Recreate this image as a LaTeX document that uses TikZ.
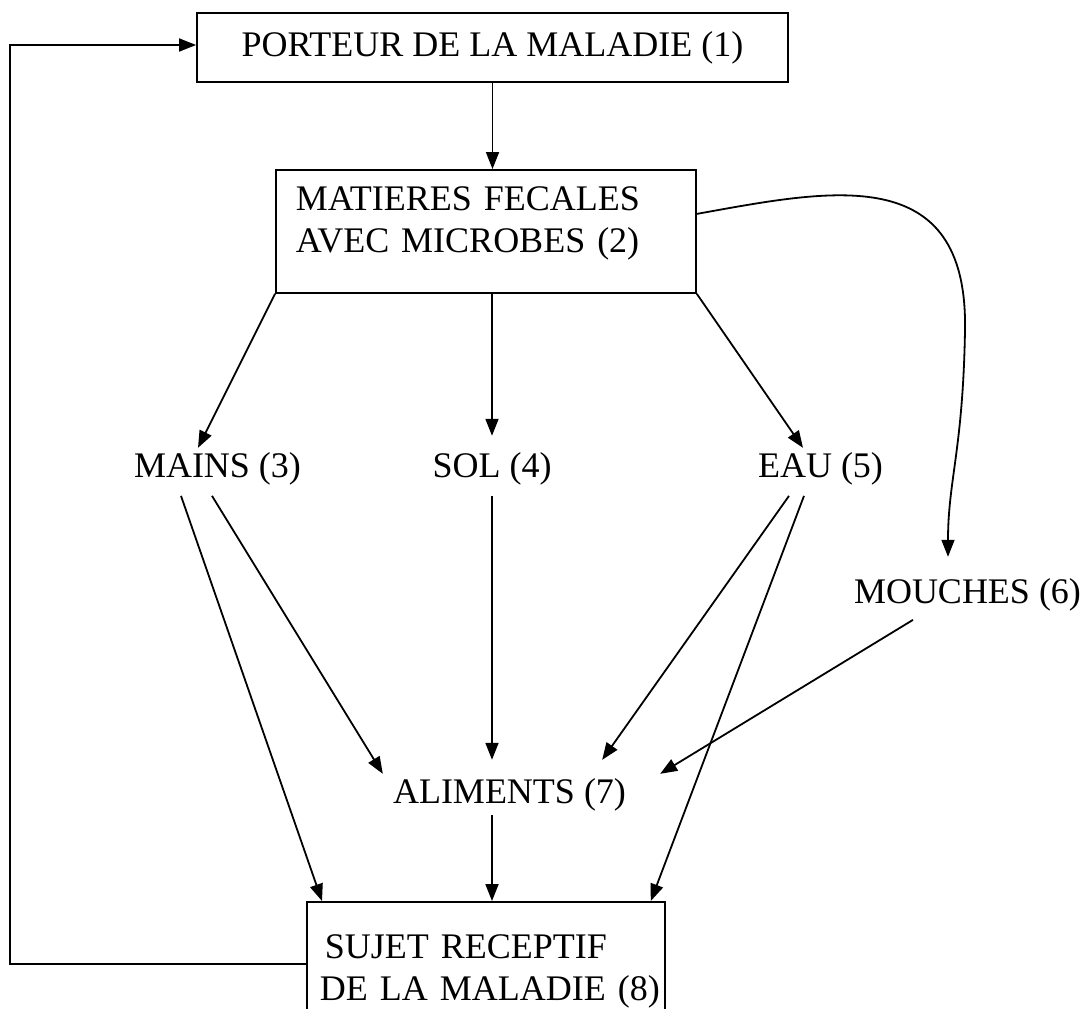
\documentclass[tikz,border=0pt]{standalone}
\usepackage{fontspec}
\setmainfont{Liberation Serif}
\usetikzlibrary{
    arrows.meta,
    positioning
}
\tikzstyle{arrow} = [
    line width=1.8pt,
    -{Triangle[length=17pt,width=13pt]}
]
\tikzstyle{box} = [
    draw,
    line width=1.8pt,
    rectangle
]
\tikzstyle{entry} = [
    inner sep=4pt,
    anchor=base
]

\begin{document}
\begin{tikzpicture}[x=1pt, y=-1pt, font=\fontsize{36}{42}\selectfont]
\useasboundingbox (0,0) rectangle (1085,1009);
\clip (0,0) rectangle (1085,1009);

% boites
\node[box, minimum width=591pt, minimum height=69pt] (porteur) at (492.5,47.5) {PORTEUR DE LA MALADIE (1)};
\node[box, anchor=north west, text width=380pt, inner xsep=20pt, minimum height=123pt, align=left, text depth=66pt] (fecal) at (275,169) {MATIERES FECALES\\AVEC MICROBES (2)};
\node[box, anchor=north west, text width=332pt, inner xsep=13pt, minimum height=139pt, align=left] (recv) at (306,901) {\mbox{\hspace{5pt}SUJET RECEPTIF}\\\mbox{DE LA MALADIE (8)}};

% voies
\node[entry] (mains)    at (217.5,477) {MAINS (3)};
\node[entry] (sol)      at (492,477)   {SOL (4)};
\node[entry] (eau)      at (820.5,477) {EAU (5)};
\node[entry] (mouches)  at (967.5,603) {MOUCHES (6)};
\node[entry] (aliments) at (509.5,803) {ALIMENTS (7)};

% fleches
\draw[arrow] ([yshift=7.5pt]recv.west) -- ++(-296,0) |- ([yshift=2.5pt]porteur.west);
\draw[arrow] (porteur.south) -- (porteur.south |- fecal.north);
\draw[arrow] (fecal.south west) -- ([xshift=-19.5pt]mains.north);
\draw[arrow] (sol.north |- fecal.south) -- ([yshift=12pt]sol.north);
\draw[arrow] (fecal.south east) -- ([xshift=-17.5pt]eau.north);
\draw[arrow] ([yshift=17.5pt]fecal.east) .. controls (830,190) and (968,160) .. (965,330)
    .. controls (963,450) and (948,480) .. ([xshift=-19.5pt,yshift=17pt]mouches.north);
\draw[arrow] ([xshift=-36.5pt,yshift=-7pt]mains.south) -- ([xshift=16pt]recv.north west);
\draw[arrow] ([xshift=-5.5pt,yshift=-7pt]mains.south) -- ([xshift=-6pt]aliments.north west);
\draw[arrow, shorten >=14pt] ([yshift=-7pt]sol.south) -- (sol.south |- aliments.north);
\draw[arrow] ([xshift=-31.5pt,yshift=-7pt]eau.south) -- ([xshift=-28pt,yshift=14pt]aliments.north east);
\draw[arrow] ([xshift=-16.5pt,yshift=-7pt]eau.south) -- ([xshift=-15pt]recv.north east);
\draw[arrow] ([xshift=-54.5pt,yshift=-5pt]mouches.south) -- ([xshift=30pt]aliments.north east);
\draw[arrow] (sol.south |- aliments.south) -- (sol.south |- recv.north);
\end{tikzpicture}
\end{document}
